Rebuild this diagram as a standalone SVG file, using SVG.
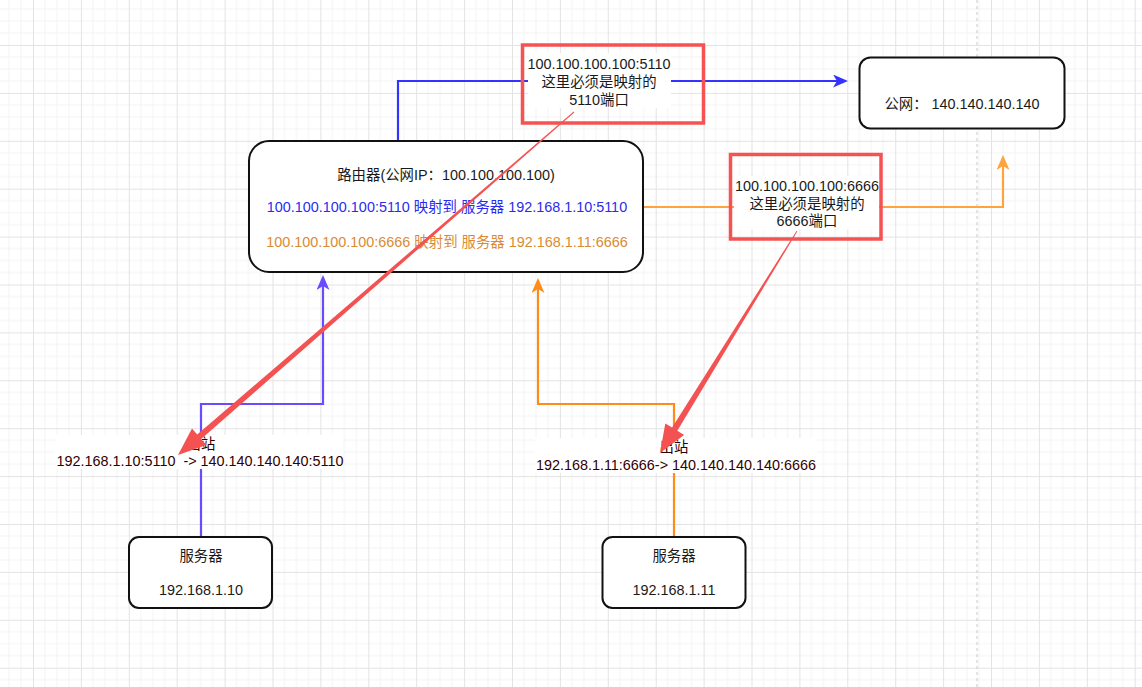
<svg xmlns="http://www.w3.org/2000/svg" width="1142" height="687" viewBox="0 0 1142 687">
<style>
text{font-family:"Liberation Sans","Noto Sans CJK SC",sans-serif;font-size:14.4px;text-anchor:middle;fill:#1a1a1a}
.box{fill:#fff;stroke:#111;stroke-width:2}
.lbl{fill:#330000}
.bg{fill:#fff}
.red{fill:none;stroke:#f55353;stroke-width:3.5}
.conn{fill:none;stroke-width:2.2}
</style>
<defs>
<pattern id="grid" x="33" y="45" width="47.9" height="47.9" patternUnits="userSpaceOnUse">
<path d="M11.975,0V47.9M23.95,0V47.9M35.925,0V47.9M0,11.975H47.9M0,23.95H47.9M0,35.925H47.9" stroke="#f3f3f3" stroke-width="1" fill="none"/>
<path d="M0.5,0V47.9M0,0.5H47.9" stroke="#e3e3e3" stroke-width="1" fill="none"/>
</pattern>
<marker id="aBlue" viewBox="0 0 15 13" refX="12" refY="6.5" markerWidth="15" markerHeight="13" markerUnits="userSpaceOnUse" orient="auto"><path d="M0,0L15,6.5L0,13L4,6.5Z" fill="#3333ff"/></marker>
<marker id="aViolet" viewBox="0 0 15 13" refX="12" refY="6.5" markerWidth="15" markerHeight="13" markerUnits="userSpaceOnUse" orient="auto"><path d="M0,0L15,6.5L0,13L4,6.5Z" fill="#6b4bff"/></marker>
<marker id="aOrangeL" viewBox="0 0 15 13" refX="12" refY="6.5" markerWidth="15" markerHeight="13" markerUnits="userSpaceOnUse" orient="auto"><path d="M0,0L15,6.5L0,13L4,6.5Z" fill="#ffa33f"/></marker>
<marker id="aOrange" viewBox="0 0 15 13" refX="12" refY="6.5" markerWidth="15" markerHeight="13" markerUnits="userSpaceOnUse" orient="auto"><path d="M0,0L15,6.5L0,13L4,6.5Z" fill="#ff8c1a"/></marker>
</defs>
<rect width="1142" height="687" fill="#fff"/>
<rect width="1142" height="687" fill="url(#grid)"/>
<line x1="977" y1="0" x2="977" y2="687" stroke="#c8c8c8" stroke-width="1" stroke-dasharray="3,3"/>

<g id="connectors">
<path class="conn" stroke="#3333ff" d="M398,141V81H845" marker-end="url(#aBlue)"/>
<path class="conn" stroke="#ffa33f" d="M643,207H1003V158" marker-end="url(#aOrangeL)"/>
<path class="conn" stroke="#6b4bff" d="M201,537V404H323V278" marker-end="url(#aViolet)"/>
<path class="conn" stroke="#ff8c1a" d="M674,537V404H538V281" marker-end="url(#aOrange)"/>
<g id="label-top">
<rect class="bg" x="528" y="53" width="143" height="55"/>
<text x="599" y="68.5">100.100.100.100:5110</text>
<text x="599" y="87">这里必须是映射的</text>
<text x="599" y="104.5">5110端口</text>
</g>
<g id="label-right">
<rect class="bg" x="734" y="176" width="145" height="53"/>
<text x="807" y="191">100.100.100.100:6666</text>
<text x="807" y="208.5">这里必须是映射的</text>
<text x="807" y="226">6666端口</text>
</g>
<g id="label-out1">
<rect class="bg" x="55" y="435" width="288" height="34"/>
<text class="lbl" x="201" y="449">出站</text>
<text class="lbl" x="200" y="466" xml:space="preserve">192.168.1.10:5110  -&gt; 140.140.140.140:5110</text>
</g>
<g id="label-out2">
<rect class="bg" x="535" y="438" width="282" height="35"/>
<text class="lbl" x="674" y="452">出站</text>
<text class="lbl" x="676" y="469.5">192.168.1.11:6666-&gt; 140.140.140.140:6666</text>
</g>
</g>

<g id="router">
<rect class="box" x="249" y="141" width="394" height="131" rx="20" ry="20"/>
<text x="446" y="179.5">路由器(公网IP：100.100.100.100)</text>
<text x="447" y="212" style="fill:#2b2bf0">100.100.100.100:5110 映射到 服务器 192.168.1.10:5110</text>
<text x="447" y="247" style="fill:#d98b33">100.100.100.100:6666 映射到 服务器 192.168.1.11:6666</text>
</g>

<g id="public">
<rect class="box" x="859.5" y="57.5" width="205" height="71" rx="11" ry="11"/>
<text x="962" y="108.5">公网： 140.140.140.140</text>
</g>

<g id="server1">
<rect class="box" x="129" y="537" width="143" height="71" rx="10" ry="10"/>
<text x="201" y="561">服务器</text>
<text x="201" y="595">192.168.1.10</text>
</g>

<g id="server2">
<rect class="box" x="602.5" y="537" width="143" height="71" rx="10" ry="10"/>
<text x="674" y="561">服务器</text>
<text x="674" y="595">192.168.1.11</text>
</g>

<g id="annotations">
<rect class="red" x="522.5" y="45" width="181" height="78"/>
<rect class="red" x="730.5" y="154.5" width="150.5" height="84.5"/>
<polygon fill="#f45252" points="574.3,112.4 201.2,439 206.4,445 178,455 192,428.4 197.2,434.4 573.7,111.6"/>
<polygon fill="#f45252" points="797.4,231.3 677.3,430.8 684.1,435 660,453 665.3,423.4 672.1,427.6 796.6,230.7"/>
</g>
</svg>
